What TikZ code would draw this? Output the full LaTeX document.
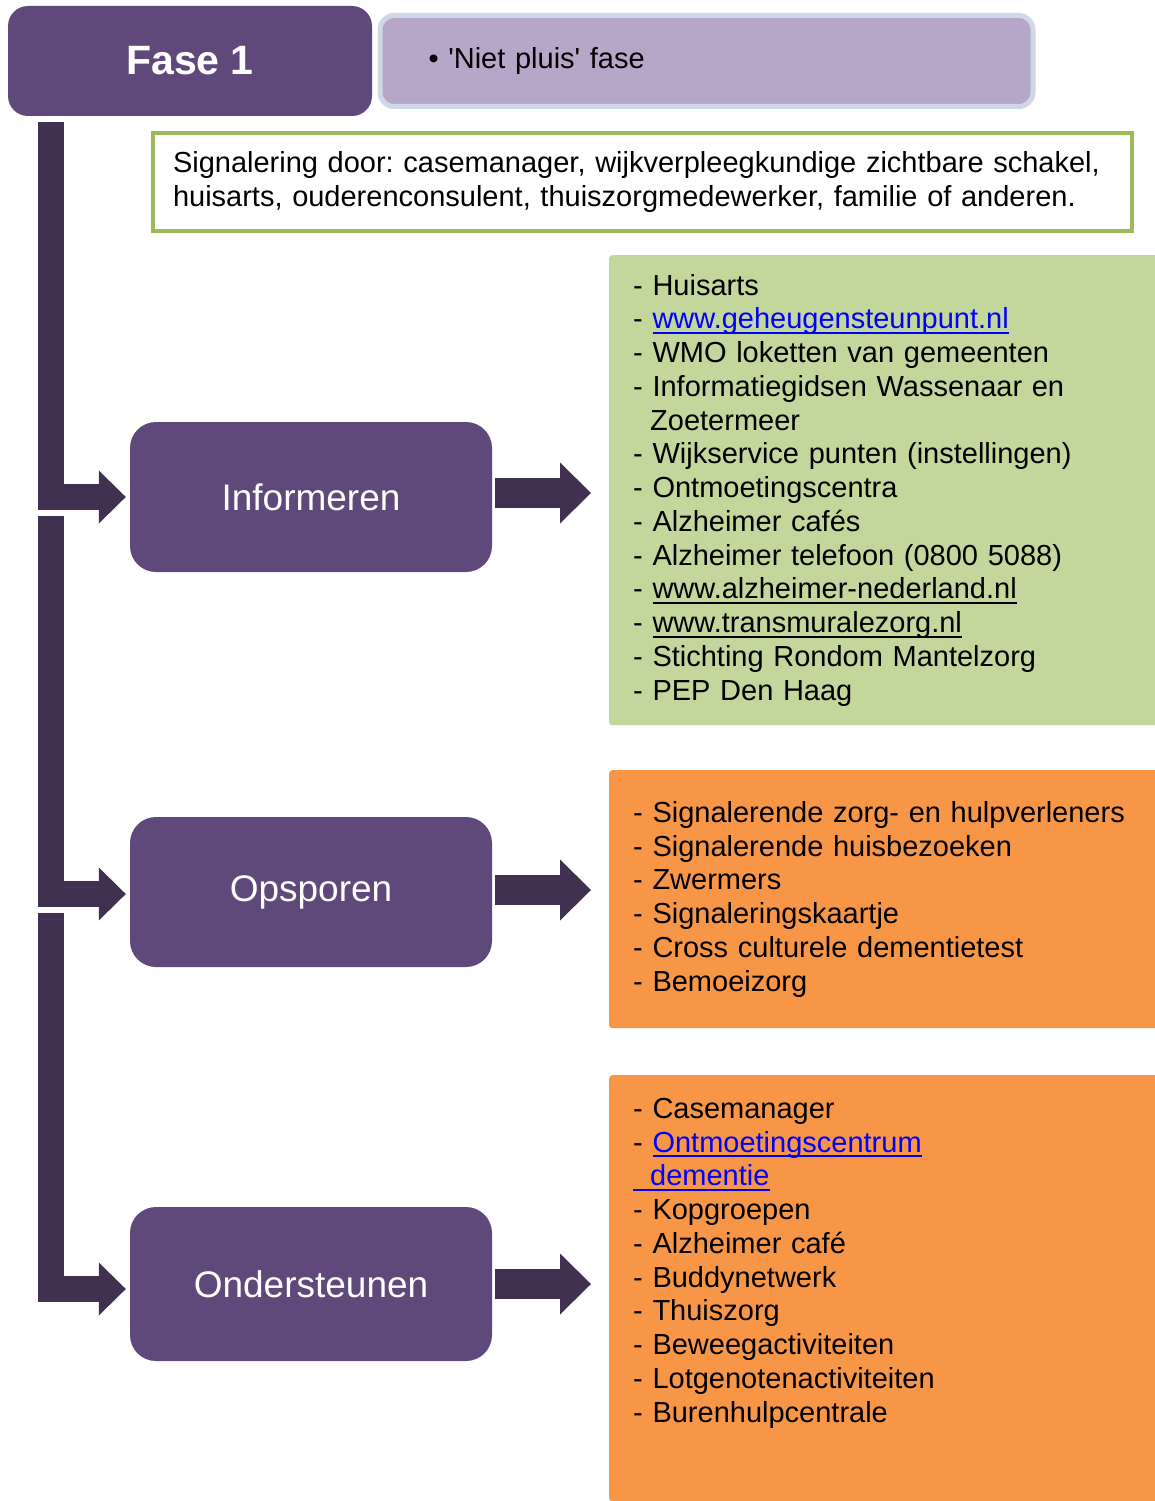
\documentclass[tikz,border=0pt]{standalone}
\usepackage{fontspec}
\setmainfont{Liberation Sans}
\newfontfamily\pluisfont{Liberation Sans}
\usetikzlibrary{arrows.meta,positioning}
\definecolor{barpurple}{HTML}{403151}
\definecolor{boxpurple}{HTML}{5F497A}
\definecolor{pluisfill}{HTML}{B6A7C9}
\definecolor{pluisline}{HTML}{D0D8E8}
\definecolor{signalgreen}{HTML}{9BBB59}
\definecolor{listgreen}{HTML}{C3D69B}
\definecolor{listorange}{HTML}{F79646}
\definecolor{linkblue}{HTML}{0000FF}
\frenchspacing
\newsavebox{\linkbox}
\newcommand{\sitelink}[1]{\leavevmode{\sbox{\linkbox}{#1}\rlap{\rule[-5pt]{\wd\linkbox}{2pt}}\usebox{\linkbox}}}
\newcommand{\weblink}[1]{\leavevmode{\color{linkblue}\sitelink{#1}}}
\newcommand{\listfont}{\fontsize{29pt}{33.75pt}\selectfont}
\begin{document}
\begin{tikzpicture}[x=1pt,y=-1pt,
  fasebox/.style={fill=boxpurple, rounded corners=20pt, minimum width=364pt, minimum height=110pt, inner sep=0pt, text=white, font=\fontsize{41pt}{48pt}\selectfont\bfseries},
  pluisbox/.style={fill=pluisfill, draw=pluisline, line width=5pt, rounded corners=14pt, anchor=west, minimum height=91pt, text width=556pt, inner xsep=48.5pt, align=left, font=\pluisfont\listfont},
  signalbox/.style={draw=signalgreen, line width=4pt, fill=white, anchor=north west, text width=939pt, inner xsep=20pt, minimum height=98pt, align=left, font=\listfont},
  stepbox/.style={fill=boxpurple, rounded corners=26pt, minimum width=362pt, minimum height=150pt, text=white, font=\fontsize{37pt}{44pt}\selectfont},
  listbox/.style={anchor=north west, rounded corners=3pt, text width=510pt, inner xsep=24pt, align=left, font=\listfont},
  barline/.style={draw=barpurple, line width=26pt, line join=miter, shorten >=4pt, -{Triangle[length=27pt,width=53pt,line width=0pt]}},
  fatarrow/.style={draw=barpurple, line width=30pt, shorten >=18pt, -{Triangle[length=31pt,width=61pt,line width=0pt]}}]
  \useasboundingbox[fill=white] (0,0) rectangle (1155,1501);

  % Header
  \node[fasebox] (fase) at (190,61) {Fase 1};
  \node[pluisbox] (pluis) at (377.5,61) {\textbullet\ 'Niet pluis' fase};
  \node[signalbox] (signal) at (151,131) {Signalering door: casemanager, wijkverpleegkundige zichtbare schakel,\\huisarts, ouderenconsulent, thuiszorgmedewerker, familie of anderen.};

  % Steps
  \node[stepbox] (inf) at (311,497) {Informeren};
  \node[stepbox] (ops) at (311,892) {Opsporen};
  \node[stepbox, minimum height=154pt] (ond) at (311,1284) {Ondersteunen};

  % Lists
  \node[listbox, fill=listgreen, minimum height=470pt] (infl) at (609,255) {- Huisarts\\
    - \weblink{www.geheugensteunpunt.nl}\\
    - WMO loketten van gemeenten\\
    - Informatiegidsen Wassenaar en\\
    \hspace*{17pt}Zoetermeer\\
    - Wijkservice punten (instellingen)\\
    - Ontmoetingscentra\\
    - Alzheimer cafés\\
    - Alzheimer telefoon (0800 5088)\\
    - \sitelink{www.alzheimer-nederland.nl}\\
    - \sitelink{www.transmuralezorg.nl}\\
    - Stichting Rondom Mantelzorg\\
    - PEP Den Haag};
  \node[listbox, fill=listorange, minimum height=258pt] (opsl) at (609,770) {- Signalerende zorg- en hulpverleners\\
    - Signalerende huisbezoeken\\
    - Zwermers\\
    - Signaleringskaartje\\
    - Cross culturele dementietest\\
    - Bemoeizorg};
  \node[listbox, fill=listorange, inner ysep=23pt] (ondl) at (609,1075) {\parbox[c][380pt][t]{510pt}{\raggedright
    - Casemanager\\
    - \weblink{Ontmoetingscentrum}\\
    \weblink{\hspace*{17pt}dementie}\\
    - Kopgroepen\\
    - Alzheimer café\\
    - Buddynetwerk\\
    - Thuiszorg\\
    - Beweegactiviteiten\\
    - Lotgenotenactiviteiten\\
    - Burenhulpcentrale}};

  % Bar with arms
  \coordinate (bar1) at (51,122);
  \coordinate (bar2) at (51,516);
  \coordinate (bar3) at (51,913);
  \draw[barline] (bar1) |- (inf.west);
  \draw[barline] (bar2) |- ([yshift=-2pt]ops.west);
  \draw[barline] (bar3) |- ([yshift=-5pt]ond.west);

  % Arrows to the lists
  \draw[fatarrow] ([xshift=3pt,yshift=4pt]inf.east) -- ([yshift=4pt]inf.east -| infl.west);
  \draw[fatarrow] ([xshift=3pt,yshift=2pt]ops.east) -- ([yshift=2pt]ops.east -| opsl.west);
  \draw[fatarrow] ([xshift=3pt]ond.east) -- (ond.east -| ondl.west);
\end{tikzpicture}
\end{document}
